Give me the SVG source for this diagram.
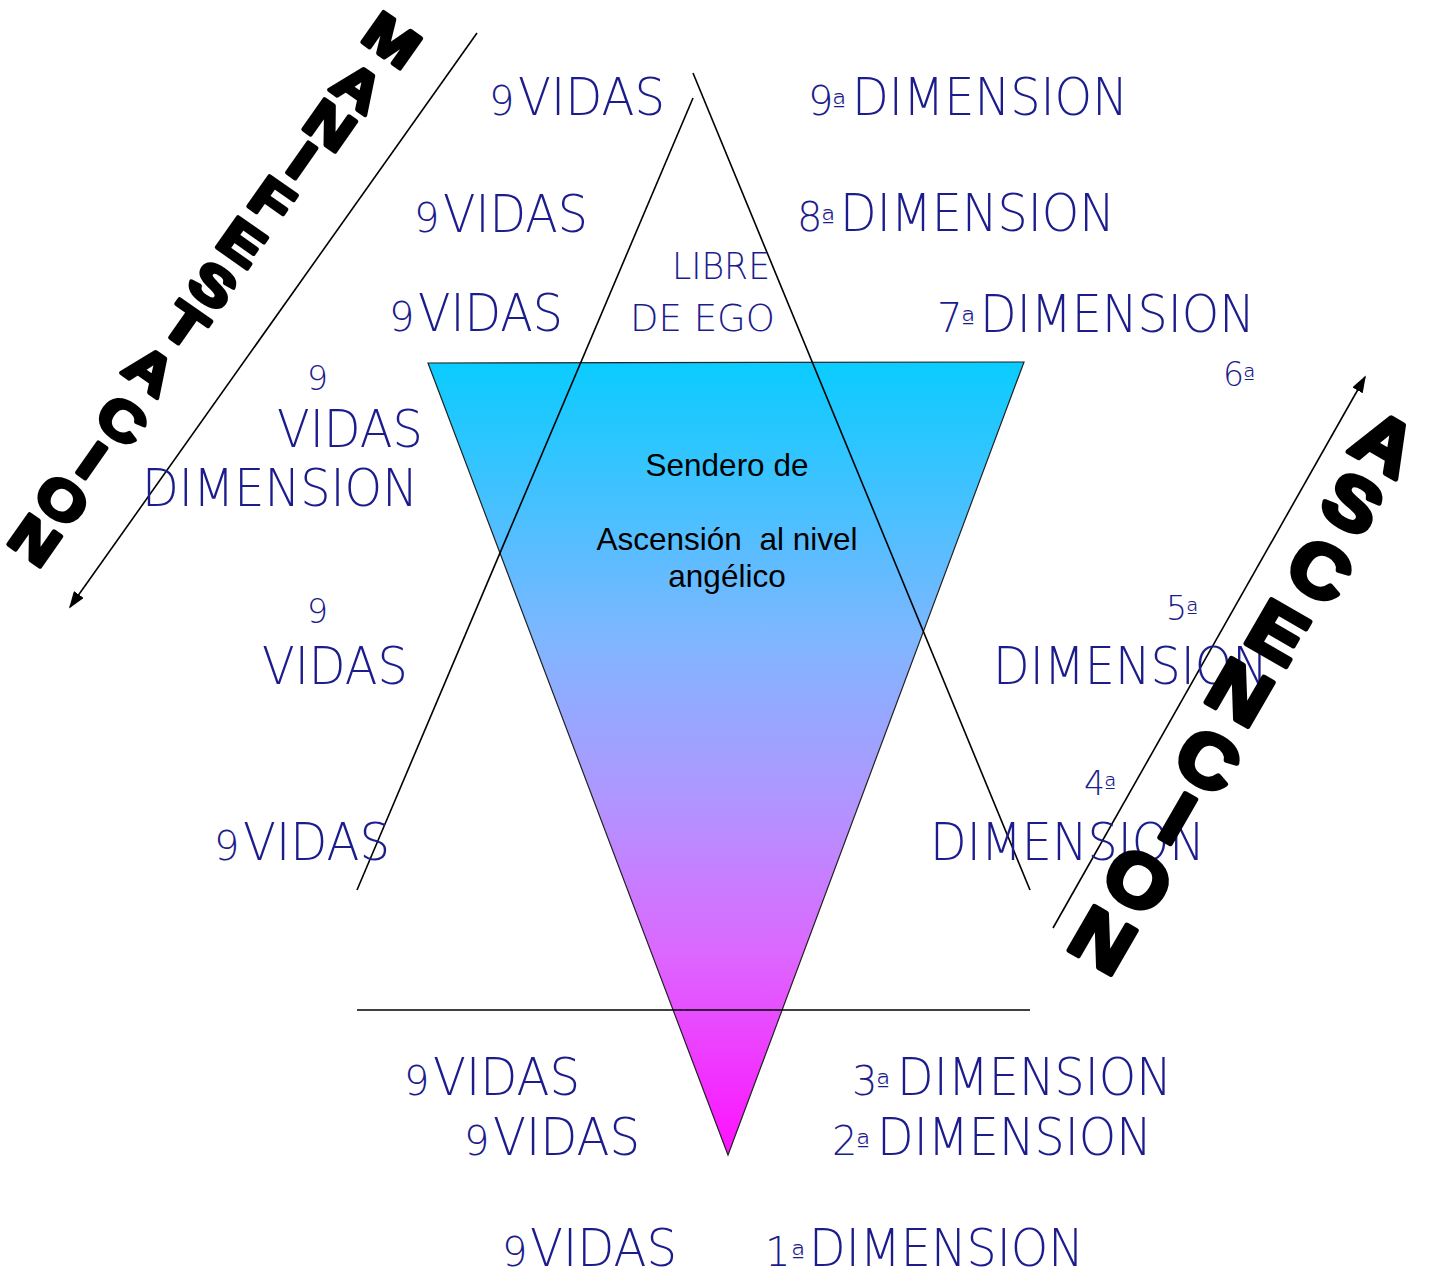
<svg xmlns="http://www.w3.org/2000/svg" width="1431" height="1276" viewBox="0 0 1431 1276">
<style>
.t{font-family:"DejaVu Sans","Liberation Sans",sans-serif;font-weight:200;fill:#1C1C8C;}
.big{font-size:52px;}
.num{font-size:40px;}
.ord{font-size:30px;}
.sn{font-size:33px;}
.so{font-size:26px;}
.c{font-family:"Liberation Sans",Arial,sans-serif;font-size:31.5px;fill:#000;text-anchor:middle;}
.w{font-family:"Liberation Sans",Arial,sans-serif;font-weight:bold;fill:#000;stroke:#000;stroke-linejoin:round;text-anchor:middle;}
.wl{font-size:54px;stroke-width:4;}
.wr{font-size:74px;stroke-width:5;}
.ln{stroke:#000;stroke-width:1.6;fill:none;}
</style>
<defs>
<linearGradient id="g" x1="0" y1="0" x2="0" y2="1">
<stop offset="0" stop-color="#0ACCFF"/>
<stop offset="0.35" stop-color="#7FB6FF"/>
<stop offset="0.55" stop-color="#B096FF"/>
<stop offset="0.75" stop-color="#DD66FF"/>
<stop offset="1" stop-color="#FF10FF"/>
</linearGradient>
<marker id="ah" viewBox="0 0 10 10" refX="9" refY="5" markerWidth="17" markerHeight="12" markerUnits="userSpaceOnUse" orient="auto" preserveAspectRatio="none">
<path d="M0,0 L10,5 L0,10 z" fill="#000"/>
</marker>
</defs>
<g id="triangle-down">
<polygon points="428,363 1024,362 728,1155" fill="url(#g)" stroke="#222" stroke-width="1.2"/>
<text class="c" x="727" y="476">Sendero de</text>
<text class="c" x="727" y="550" xml:space="preserve">Ascensión  al nivel</text>
<text class="c" x="727" y="587">angélico</text>
</g>
<g id="connectors">
<line class="ln" x1="693" y1="73" x2="1030" y2="890"/>
<line class="ln" x1="693" y1="98" x2="357" y2="890"/>
<line class="ln" x1="357" y1="1010" x2="1030" y2="1010"/>
<line class="ln" x1="477" y1="33" x2="70" y2="607" marker-end="url(#ah)" stroke-width="1.4"/>
<line class="ln" x1="1053" y1="928" x2="1365" y2="377" marker-end="url(#ah)" stroke-width="1.4"/>
</g>
<g id="libre">
<text class="t" x="672" y="279" font-size="37" textLength="98" lengthAdjust="spacingAndGlyphs">LIBRE</text>
<text class="t" x="630" y="331" font-size="37" textLength="145" lengthAdjust="spacingAndGlyphs">DE EGO</text>
</g>
<g id="vidas">
<text class="t num" x="489" y="115">9</text><text class="t big" x="518" y="115" textLength="147" lengthAdjust="spacingAndGlyphs">VIDAS</text>
<text class="t num" x="414" y="232">9</text><text class="t big" x="443" y="232" textLength="145" lengthAdjust="spacingAndGlyphs">VIDAS</text>
<text class="t num" x="389" y="331">9</text><text class="t big" x="418" y="331" textLength="145" lengthAdjust="spacingAndGlyphs">VIDAS</text>
<text class="t sn" x="307" y="390">9</text>
<text class="t big" x="277" y="447" textLength="146" lengthAdjust="spacingAndGlyphs">VIDAS</text>
<text class="t big" x="142" y="506" textLength="276" lengthAdjust="spacingAndGlyphs">DIMENSION</text>
<text class="t sn" x="307" y="623">9</text>
<text class="t big" x="262" y="684" textLength="146" lengthAdjust="spacingAndGlyphs">VIDAS</text>
<text class="t num" x="214" y="860">9</text><text class="t big" x="243" y="860" textLength="147" lengthAdjust="spacingAndGlyphs">VIDAS</text>
<text class="t num" x="404" y="1095">9</text><text class="t big" x="433" y="1095" textLength="147" lengthAdjust="spacingAndGlyphs">VIDAS</text>
<text class="t num" x="464" y="1155">9</text><text class="t big" x="493" y="1155" textLength="147" lengthAdjust="spacingAndGlyphs">VIDAS</text>
<text class="t num" x="502" y="1266">9</text><text class="t big" x="530" y="1266" textLength="147" lengthAdjust="spacingAndGlyphs">VIDAS</text>
</g>
<g id="dimensions">
<text class="t num" x="808" y="115">9</text><text class="t ord" x="832" y="115">ª</text><text class="t big" x="852" y="115" textLength="276" lengthAdjust="spacingAndGlyphs">DIMENSION</text>
<text class="t num" x="797" y="231">8</text><text class="t ord" x="821" y="231">ª</text><text class="t big" x="840" y="231" textLength="275" lengthAdjust="spacingAndGlyphs">DIMENSION</text>
<text class="t num" x="937" y="332">7</text><text class="t ord" x="961" y="332">ª</text><text class="t big" x="980" y="332" textLength="275" lengthAdjust="spacingAndGlyphs">DIMENSION</text>
<text class="t sn" x="1223" y="386">6</text><text class="t so" x="1243" y="386">ª</text>
<text class="t sn" x="1166" y="620">5</text><text class="t so" x="1186" y="620">ª</text>
<text class="t big" x="993" y="684" textLength="275" lengthAdjust="spacingAndGlyphs">DIMENSION</text>
<text class="t sn" x="1084" y="795">4</text><text class="t so" x="1104" y="795">ª</text>
<text class="t big" x="930" y="860" textLength="275" lengthAdjust="spacingAndGlyphs">DIMENSION</text>
<text class="t num" x="852" y="1095">3</text><text class="t ord" x="876" y="1095">ª</text><text class="t big" x="897" y="1095" textLength="275" lengthAdjust="spacingAndGlyphs">DIMENSION</text>
<text class="t num" x="832" y="1155">2</text><text class="t ord" x="856" y="1155">ª</text><text class="t big" x="877" y="1155" textLength="275" lengthAdjust="spacingAndGlyphs">DIMENSION</text>
<text class="t num" x="765" y="1266">1</text><text class="t ord" x="791" y="1266">ª</text><text class="t big" x="809" y="1266" textLength="275" lengthAdjust="spacingAndGlyphs">DIMENSION</text>
</g>
<g id="manifestacion">
<text class="w wl" transform="translate(392,40) rotate(35) scale(1.2,1)" y="19">M</text>
<text class="w wl" transform="translate(358,87) rotate(35) scale(1.2,1)" y="19">A</text>
<text class="w wl" transform="translate(330,125) rotate(35) scale(1.2,1)" y="19">N</text>
<text class="w wl" transform="translate(302,160) rotate(35) scale(1.2,1)" y="19">I</text>
<text class="w wl" transform="translate(272,200) rotate(35) scale(1.2,1)" y="19">F</text>
<text class="w wl" transform="translate(242,242) rotate(35) scale(1.2,1)" y="19">E</text>
<text class="w wl" transform="translate(213,285) rotate(35) scale(1.2,1)" y="19">S</text>
<text class="w wl" transform="translate(185,325) rotate(35) scale(1.2,1)" y="19">T</text>
<text class="w wl" transform="translate(150,370) rotate(35) scale(1.2,1)" y="19">A</text>
<text class="w wl" transform="translate(122,420) rotate(35) scale(1.2,1)" y="19">C</text>
<text class="w wl" transform="translate(92,460) rotate(35) scale(1.2,1)" y="19">I</text>
<text class="w wl" transform="translate(62,500) rotate(35) scale(1.2,1)" y="19">O</text>
<text class="w wl" transform="translate(35,540) rotate(35) scale(1.2,1)" y="19">N</text>
</g>
<g id="ascencion">
<text class="w wr" transform="translate(1385,443) rotate(30) scale(1.1,1)" y="26">A</text>
<text class="w wr" transform="translate(1353,503) rotate(30) scale(1.1,1)" y="26">S</text>
<text class="w wr" transform="translate(1320,570) rotate(30) scale(1.1,1)" y="26">C</text>
<text class="w wr" transform="translate(1278,632) rotate(30) scale(1.1,1)" y="26">E</text>
<text class="w wr" transform="translate(1240,692) rotate(30) scale(1.1,1)" y="26">N</text>
<text class="w wr" transform="translate(1208,760) rotate(30) scale(1.1,1)" y="26">C</text>
<text class="w wr" transform="translate(1178,818) rotate(30) scale(1.1,1)" y="26">I</text>
<text class="w wr" transform="translate(1138,880) rotate(30) scale(1.1,1)" y="26">O</text>
<text class="w wr" transform="translate(1103,940) rotate(30) scale(1.1,1)" y="26">N</text>
</g>
</svg>
